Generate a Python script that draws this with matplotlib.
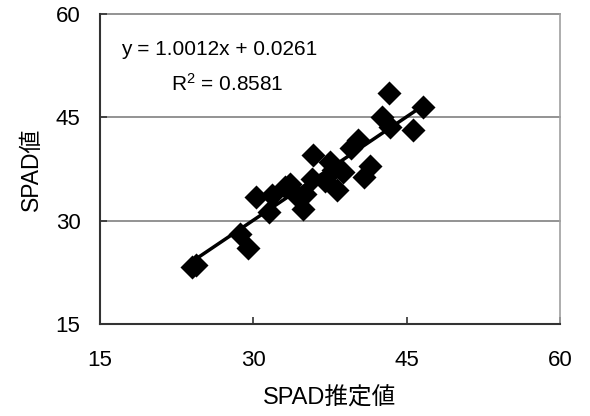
import numpy as np
import matplotlib
matplotlib.use('Agg')
import matplotlib.pyplot as plt

plt.rcParams['font.family'] = ['Liberation Sans', 'Noto Sans CJK JP', 'DejaVu Sans']

# SPAD estimated vs measured
est = [24.0, 24.4, 28.7, 29.5, 30.3, 31.5, 31.8, 33.1, 33.6, 34.2, 34.9, 35.1, 35.7, 35.8,
       37.0, 37.5, 37.8, 38.2, 38.8, 39.6, 40.2, 40.8, 41.4, 42.6, 43.3, 43.4, 45.6, 46.6]
spad = [23.3, 23.6, 28.1, 26.1, 33.4, 31.2, 33.7, 34.9, 35.3, 33.7, 31.7, 33.9, 36.1, 39.5,
        35.8, 38.5, 37.3, 34.4, 37.0, 40.5, 41.7, 36.3, 37.9, 45.1, 48.5, 43.6, 43.1, 46.5]
slope = 1.0012
icpt = 0.0261
r2 = 0.8581

fig = plt.figure(figsize=(5.9, 4.16), dpi=100)
ax = fig.add_axes([0.1695, 0.2212, 0.7795, 0.7451])

for g in [30, 45, 60]:
    ax.axhline(g, color='#808080', lw=1.2, zorder=1, clip_on=False)

ax.scatter(est, spad, marker='D', s=150, color='black', zorder=3, linewidths=0)
xs = np.array([min(est), max(est)])
ax.plot(xs, slope * xs + icpt, color='black', lw=2.5, zorder=4)

ax.set_xlim(15, 60)
ax.set_ylim(15, 60)
ax.set_xticks([15, 30, 45, 60])
ax.set_yticks([15, 30, 45, 60])
ax.tick_params(direction='in', length=5, width=1.2, labelsize=16, color='#333333')
ax.tick_params(axis='y', pad=14)
ax.tick_params(axis='x', pad=19)
for s in ['left', 'bottom']:
    ax.spines[s].set_linewidth(1.5)
    ax.spines[s].set_color('#333333')
ax.spines['top'].set_visible(False)
ax.spines['right'].set_color('#a0a0a0')
ax.spines['right'].set_linewidth(1.2)

ax.set_xlabel('SPAD推定値', fontsize=17, labelpad=11)
ax.set_ylabel('SPAD値', fontsize=16.5, labelpad=9)

ax.text(0.045, 0.885, 'y = %.4fx + %.4f' % (slope, icpt), transform=ax.transAxes,
        fontsize=15, va='center', ha='left')
ax.text(0.155, 0.775, '$\\mathregular{R^2}$ = %.4f' % r2, transform=ax.transAxes,
        fontsize=15, va='center', ha='left')

fig.savefig('out.png', dpi=100)
